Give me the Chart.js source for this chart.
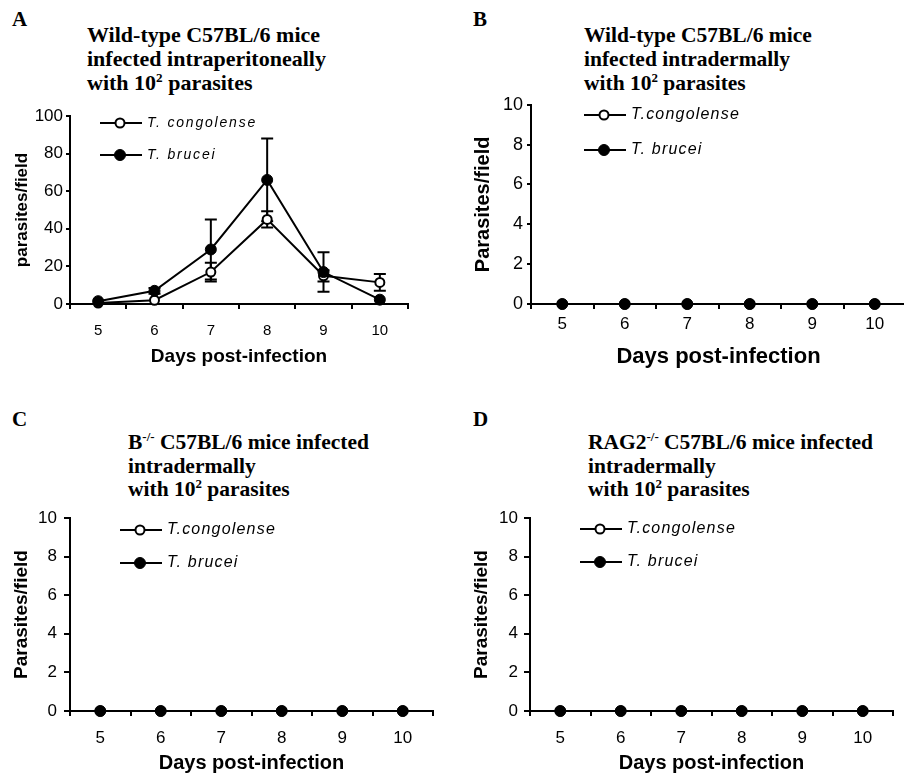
<!DOCTYPE html>
<html>
<head>
<meta charset="utf-8">
<script src="https://cdn.jsdelivr.net/npm/chart.js@4.4.1/dist/chart.umd.min.js"></script>
<style>
  html, body { margin: 0; padding: 0; background: #fff; overflow: hidden; }
  #wrap { position: relative; width: 904px; height: 775px; overflow: hidden; background: #fff; }
  canvas { position: absolute; }
  .lab { position: absolute; font: bold 21px "Liberation Serif", "Times New Roman", serif; line-height: 21px; color: #000; }
  .ttl { position: absolute; font-family: "Liberation Serif", "Times New Roman", serif; font-weight: bold; white-space: nowrap; color: #000; }
  .ttl sup { font-size: 0.6em; line-height: 0; vertical-align: 0.6em; }
</style>
</head>
<body>
<div id="wrap">
  <div class="lab" style="left:12px;top:9px">A</div>
  <div class="lab" style="left:473px;top:9px">B</div>
  <div class="lab" style="left:12px;top:409px">C</div>
  <div class="lab" style="left:473px;top:409px">D</div>

  <div class="ttl" style="left:87px;top:23px;font-size:22px;line-height:24px">Wild-type C57BL/6 mice<br>infected intraperitoneally<br>with 10<sup>2</sup> parasites</div>
  <div class="ttl" style="left:584px;top:23px;font-size:21.5px;line-height:24px">Wild-type C57BL/6 mice<br>infected intradermally<br>with 10<sup>2</sup> parasites</div>
  <div class="ttl" style="left:128px;top:431px;font-size:21.5px;line-height:23.5px">B<sup>-/-</sup> C57BL/6 mice infected<br>intradermally<br>with 10<sup>2</sup> parasites</div>
  <div class="ttl" style="left:588px;top:431px;font-size:21.5px;line-height:23.5px">RAG2<sup>-/-</sup> C57BL/6 mice infected<br>intradermally<br>with 10<sup>2</sup> parasites</div>

  <canvas id="chartA" width="420" height="275" style="left:0;top:100px"></canvas>
  <canvas id="chartB" width="450" height="285" style="left:461px;top:90px"></canvas>
  <canvas id="chartC" width="445" height="275" style="left:0;top:500px"></canvas>
  <canvas id="chartD" width="445" height="275" style="left:460px;top:500px"></canvas>
</div>

<script>
// 데이터
var days = ['5', '6', '7', '8', '9', '10'];

var congolenseA = [0.5, 2, 17, 45, 15, 11.5];
var congolenseErrA = [0, 0, 5, 4.3, 3, 4.5];
var bruceiA = [1.5, 7, 29, 66, 17, 2.3];
var bruceiErrA = [0, 1.5, 16, 22, 10.5, 0];

var congolenseB = [0, 0, 0, 0, 0, 0];
var bruceiB = [0, 0, 0, 0, 0, 0];
var congolenseC = [0, 0, 0, 0, 0, 0];
var bruceiC = [0, 0, 0, 0, 0, 0];
var congolenseD = [0, 0, 0, 0, 0, 0];
var bruceiD = [0, 0, 0, 0, 0, 0];

var yTicksA = [0, 20, 40, 60, 80, 100];
var yTicksBCD = [0, 2, 4, 6, 8, 10];

var sans = '"Liberation Sans", Arial, sans-serif';

// 에러바 그리기
var errorBars = {
    id: 'errorBars',
    beforeDatasetsDraw: function(chart) {
        var ctx = chart.ctx;
        var yScale = chart.scales.y;
        ctx.save();
        ctx.strokeStyle = '#000';
        ctx.lineWidth = 2;
        chart.data.datasets.forEach(function(ds, di) {
            if (!ds.errors) return;
            var meta = chart.getDatasetMeta(di);
            ds.data.forEach(function(v, i) {
                var e = ds.errors[i];
                if (!e) return;
                var x = meta.data[i].x;
                var yt = yScale.getPixelForValue(v + e);
                var yb = yScale.getPixelForValue(Math.max(0, v - e));
                ctx.beginPath();
                ctx.moveTo(x, yt); ctx.lineTo(x, yb);
                ctx.moveTo(x - 6, yt); ctx.lineTo(x + 6, yt);
                ctx.moveTo(x - 6, yb); ctx.lineTo(x + 6, yb);
                ctx.stroke();
            });
        });
        ctx.restore();
    }
};

// 범례 (선 + 마커)
var inLegend = {
    id: 'inLegend',
    afterDraw: function(chart, args, opts) {
        var ctx = chart.ctx;
        ctx.save();
        chart.data.datasets.forEach(function(ds, i) {
            var y = opts.y + i * opts.gap;
            ctx.strokeStyle = '#000';
            ctx.lineWidth = 2;
            ctx.beginPath();
            ctx.moveTo(opts.x, y);
            ctx.lineTo(opts.x + 42, y);
            ctx.stroke();
            ctx.fillStyle = ds.pointBackgroundColor;
            ctx.strokeStyle = '#000';
            ctx.lineWidth = ds.pointBorderWidth;
            Chart.helpers.drawPoint(ctx, { pointStyle: 'circle', radius: ds.pointRadius, borderWidth: ds.pointBorderWidth, rotation: 0 }, opts.x + 20, y);
            ctx.fillStyle = '#000';
            ctx.font = 'italic ' + opts.size + 'px ' + sans;
            ctx.letterSpacing = opts.spacing + 'px';
            ctx.textBaseline = 'middle';
            ctx.fillText(opts.labels[i], opts.x + 47, y);
            ctx.letterSpacing = '0px';
        });
        ctx.restore();
    }
};

function makePanel(id, p) {
    var ticks = p.yTicks;
    new Chart(document.getElementById(id), {
        type: 'line',
        data: {
            labels: days,
            datasets: [{
                label: 'T. congolense',
                data: p.congolense,
                errors: p.congolenseErr,
                borderColor: '#000',
                borderWidth: 2,
                pointRadius: 4.5,
                pointBackgroundColor: '#fff',
                pointBorderColor: '#000',
                pointBorderWidth: 2,
                tension: 0,
                clip: false,
                order: 2
            }, {
                label: 'T. brucei',
                data: p.brucei,
                errors: p.bruceiErr,
                borderColor: '#000',
                borderWidth: 2,
                pointRadius: 5.5,
                pointBackgroundColor: '#000',
                pointBorderColor: '#000',
                pointBorderWidth: 1,
                tension: 0,
                clip: false,
                order: 1
            }]
        },
        options: {
            responsive: false,
            animation: false,
            events: [],
            layout: { autoPadding: false, padding: { left: 0, top: p.padTop, right: p.padRight, bottom: 0 } },
            plugins: {
                legend: { display: false },
                tooltip: { enabled: false },
                inLegend: p.legend
            },
            scales: {
                x: {
                    type: 'category',
                    offset: true,
                    grid: { offset: true, drawOnChartArea: false, color: '#000', lineWidth: 2, tickLength: 5 },
                    border: { color: '#000', width: 2 },
                    ticks: { color: '#000', font: { family: sans, size: p.xTickSize }, padding: p.xTickPad, maxRotation: 0 },
                    title: { display: true, text: 'Days post-infection', color: '#000',
                        font: { family: sans, size: p.xTitleSize, weight: 'bold' }, padding: { top: 0, bottom: p.xTitlePad } },
                    afterFit: function(s) { s.height = p.xHeight; }
                },
                y: {
                    min: ticks[0],
                    max: ticks[ticks.length - 1],
                    grid: { drawOnChartArea: false, color: '#000', lineWidth: 2, tickLength: p.yTickLen },
                    border: { color: '#000', width: 2 },
                    ticks: { stepSize: ticks[1] - ticks[0], color: '#000', font: { family: sans, size: p.yTickSize }, padding: p.yTickPad },
                    title: { display: true, text: p.yTitle, color: '#000',
                        font: { family: sans, size: p.yTitleSize, weight: 'bold' }, padding: { top: p.yTitlePad, bottom: 0 } },
                    afterFit: function(s) { s.width = 70; }
                }
            }
        },
        plugins: [errorBars, inLegend]
    });
}

makePanel('chartA', {
    congolense: congolenseA, congolenseErr: congolenseErrA,
    brucei: bruceiA, bruceiErr: bruceiErrA,
    yTicks: yTicksA, yTitle: 'parasites/field',
    padTop: 16, padRight: 12, xHeight: 71,
    xTickSize: 15, xTickPad: 13, xTitleSize: 19, xTitlePad: 6.6,
    yTickSize: 17, yTickPad: 3, yTickLen: 4, yTitleSize: 17, yTitlePad: 11.8,
    legend: { x: 100, y: 23, gap: 32, size: 14, spacing: 1.8, labels: ['T. congolense', 'T. brucei'] }
});

makePanel('chartB', {
    congolense: congolenseB, brucei: bruceiB,
    yTicks: yTicksBCD, yTitle: 'Parasites/field',
    padTop: 13, padRight: 5, xHeight: 71,
    xTickSize: 17, xTickPad: 5, xTitleSize: 22, xTitlePad: 4.8,
    yTickSize: 18, yTickPad: 4, yTickLen: 4, yTitleSize: 20, yTitlePad: 10,
    legend: { x: 123, y: 25, gap: 35, size: 16, spacing: 1.2, labels: ['T.congolense', 'T. brucei'] }
});

makePanel('chartC', {
    congolense: congolenseC, brucei: bruceiC,
    yTicks: yTicksBCD, yTitle: 'Parasites/field',
    padTop: 18, padRight: 12, xHeight: 64,
    xTickSize: 17, xTickPad: 11.7, xTitleSize: 20, xTitlePad: 0,
    yTickSize: 17, yTickPad: 7, yTickLen: 6, yTitleSize: 19, yTitlePad: 10.6,
    legend: { x: 120, y: 30, gap: 33, size: 16, spacing: 1.2, labels: ['T.congolense', 'T. brucei'] }
});

makePanel('chartD', {
    congolense: congolenseD, brucei: bruceiD,
    yTicks: yTicksBCD, yTitle: 'Parasites/field',
    padTop: 18, padRight: 12, xHeight: 64,
    xTickSize: 17, xTickPad: 11.7, xTitleSize: 20, xTitlePad: 0,
    yTickSize: 17, yTickPad: 6, yTickLen: 6, yTitleSize: 19, yTitlePad: 10.6,
    legend: { x: 120, y: 29, gap: 33, size: 16, spacing: 1.2, labels: ['T.congolense', 'T. brucei'] }
});
</script>
</body>
</html>
